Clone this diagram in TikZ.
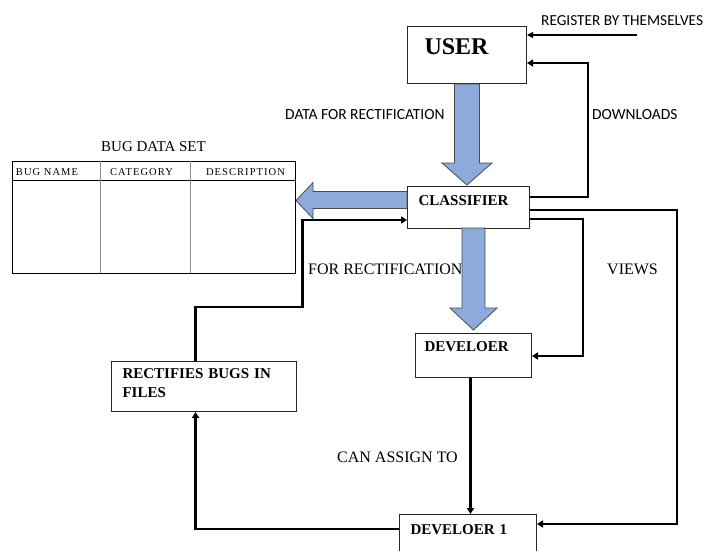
\documentclass[tikz,border=0pt]{standalone}
\usepackage{fontspec}
\setmainfont{Liberation Serif}
\newfontfamily\calibri{Carlito}
\newfontfamily\tablefont[LetterSpace=10]{Liberation Serif}
\usetikzlibrary{arrows.meta}
\definecolor{fatblue}{HTML}{8EAADB}
\tikzset{
  box/.style={draw=black!85, line width=1pt, rectangle, anchor=north west, align=left,
    inner ysep=0pt, font=\bfseries\fontsize{15}{18.5}\selectfont},
  conn/.style={line width=2.4pt, -{Triangle[length=6pt,width=7pt]}},
  thinconn/.style={line width=1.2pt, -{Triangle[length=6pt,width=6pt]}},
  fatarrow/.style={draw=black!70, line width=0.8pt, fill=fatblue},
  sanslabel/.style={font=\calibri\fontsize{15.5}{18}\selectfont, anchor=base west, inner sep=0pt},
  seriflabel/.style={font=\fontsize{16}{19}\selectfont, anchor=base west, inner sep=0pt},
  colhead/.style={font=\tablefont\fontsize{10.5}{12}\selectfont, anchor=base, inner sep=0pt}
}
\begin{document}
\begin{tikzpicture}[x=1pt,y=-1pt]
  \useasboundingbox (0,0) rectangle (705,550);
  \node[box, inner xsep=17pt, text width=85pt, text height=28pt, text depth=29pt,
    font=\bfseries\fontsize{24}{28}\selectfont] (user) at (407,26) {USER};
  \node[box, inner xsep=11pt, text width=100pt, text height=19pt, text depth=23pt] (classifier) at (407,186) {CLASSIFIER};
  \node[box, inner xsep=9pt, text width=98pt, text height=18pt, text depth=26pt] (developer) at (415,333) {DEVELOER};
  \node[box, inner xsep=11pt, text width=115pt, text height=20pt, text depth=40pt] (developer1) at (399,514) {DEVELOER 1};
  \node[box, inner xsep=11pt, text width=163pt, text height=17.3pt, text depth=32.7pt] (rectifies) at (111,361) {RECTIFIES BUGS IN\\FILES};
  \node[draw, line width=1.1pt, anchor=north west, minimum width=283pt, minimum height=112pt, inner sep=0pt] (dataset) at (12,161) {};
  \node[anchor=base, inner sep=0pt, font=\fontsize{15}{18}\selectfont] (datasettitle) at (153.5,151) {BUG DATA SET};
  \draw[line width=0.9pt] (12,180) -- (295,180);
  \foreach \x in {100,190}
    \draw[black!45, line width=1pt] (\x,161) -- (\x,273);
  \foreach \x/\name in {47/BUG NAME,141.5/CATEGORY,245.5/DESCRIPTION}
    \node[colhead] (col\x) at (\x,175) {\name};
  \node[sanslabel, font=\calibri\fontsize{15.3}{17}\selectfont] (registerlabel) at (541,25) {REGISTER BY THEMSELVES};
  \node[sanslabel] (datalabel) at (285,119) {DATA FOR RECTIFICATION};
  \node[sanslabel] (downloadslabel) at (592,119) {DOWNLOADS};
  \node[seriflabel] (rectlabel) at (308,274) {FOR RECTIFICATION};
  \node[seriflabel] (viewslabel) at (607,274) {VIEWS};
  \node[seriflabel] (assignlabel) at (337,462) {CAN ASSIGN TO};
  \draw[fatarrow, shift={(user.south)}] (-12.5,0) -- (-12.5,79) -- (-25,79) -- (0,101)
    -- (25,79) -- (12.5,79) -- (12.5,0) -- cycle;
  \draw[fatarrow, shift={(developer.north)}] (-11.5,-105) -- (-11.5,-25) -- (-23.5,-25) -- (0,-3)
    -- (23.5,-25) -- (11.5,-25) -- (11.5,-105) -- cycle;
  \draw[fatarrow, shift={(classifier.west)}] (0,-16) -- (-94,-16) -- (-94,-25) -- (-111,-7)
    -- (-94,11) -- (-94,1) -- (0,1) -- cycle;
  \coordinate (registerstart) at (637,35);
  \draw[thinconn] (registerstart) -- (registerstart -| user.east);
  \draw[conn] ([yshift=-11pt]classifier.north east) -- ++(58,0) |- ([yshift=-37pt]user.north east);
  \draw[conn] ([yshift=-24pt]classifier.north east) -- ++(147,0) |- ([yshift=-10pt]developer1.north east);
  \draw[conn] ([yshift=-33pt]classifier.north east) -- ++(53,0) |- ([yshift=-23pt]developer.north east);
  \draw[conn] ([xshift=-3pt]developer.south) -- ([xshift=-3pt]developer.south |- developer1.north);
  \draw[conn] ([yshift=-15pt]developer1.north west) -| ([xshift=-8.5pt]rectifies.south);
  \draw[conn] ([xshift=-8.5pt]rectifies.north) -- ++(0,-54) -- ++(107,0) |- ([yshift=-34pt]classifier.north west);
\end{tikzpicture}
\end{document}
